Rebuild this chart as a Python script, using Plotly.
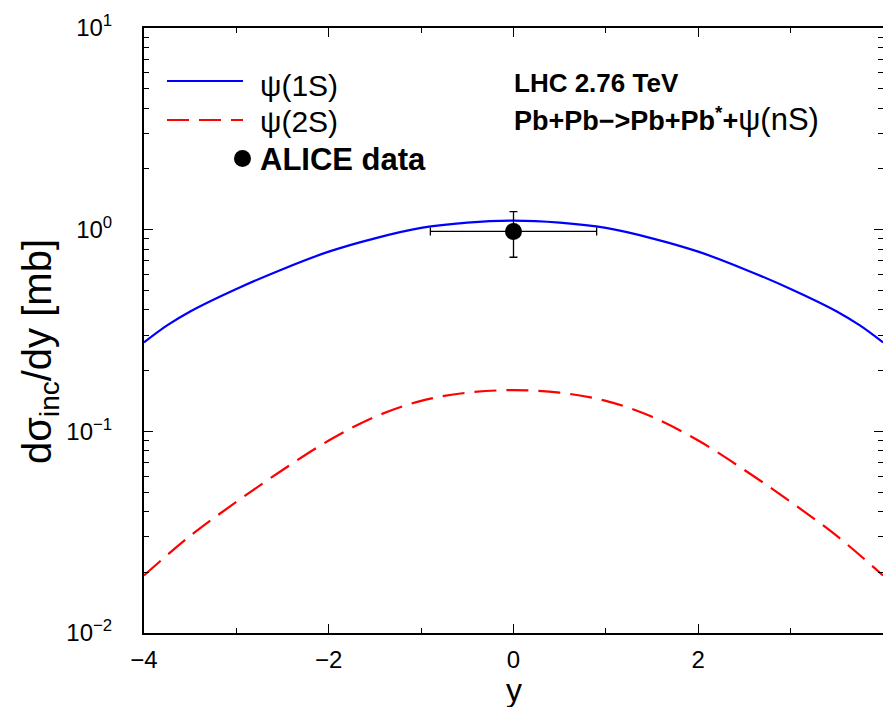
import plotly.graph_objects as go

# ---- data ----
rap = [-4.0, -3.75, -3.5, -3.0, -2.5, -2.0, -1.5, -1.0, -0.5, 0.0,
       0.5, 1.0, 1.5, 2.0, 2.5, 3.0, 3.5, 3.75, 4.0]
psi1s = [0.276, 0.335, 0.393, 0.508, 0.637, 0.778, 0.906, 1.02, 1.083, 1.108,
         1.083, 1.02, 0.906, 0.778, 0.637, 0.508, 0.393, 0.335, 0.276]
rap2 = [-4.0, -3.5, -3.0, -2.5, -2.0, -1.5, -1.0, -0.5, 0.0,
        0.5, 1.0, 1.5, 2.0, 2.5, 3.0, 3.5, 4.0]
psi2s = [0.0193, 0.0303, 0.0447, 0.0643, 0.090, 0.118, 0.1416, 0.1555, 0.160,
         0.1555, 0.1416, 0.118, 0.090, 0.0643, 0.0447, 0.0303, 0.0193]
alice_y = [0.0]
alice_val = [0.98]
alice_err_y = [0.25]
alice_err_x = [0.9]

ytick_vals = [0.01, 0.1, 1, 10]
ytick_text = ["10<sup>−2</sup>", "10<sup>−1</sup>", "10<sup>0</sup>", "10<sup>1</sup>"]
xtick_vals = [-4, -2, 0, 2, 4]
xtick_text = ["−4", "−2", "0", "2", "4"]

FONT = "Liberation Sans, Arial, Helvetica, sans-serif"

fig = go.Figure()
fig.add_trace(go.Scatter(x=rap, y=psi1s, mode="lines", line=dict(color="#0000ff", width=2.2, shape="spline"),
                         showlegend=False, hoverinfo="skip"))
fig.add_trace(go.Scatter(x=rap2, y=psi2s, mode="lines",
                         line=dict(color="#ff0000", width=2.2, dash="22px,10px", shape="spline"),
                         showlegend=False, hoverinfo="skip"))
fig.add_trace(go.Scatter(x=alice_y, y=alice_val, mode="markers",
                         marker=dict(color="black", size=17),
                         error_y=dict(type="data", array=alice_err_y, color="black", thickness=1.3, width=4),
                         error_x=dict(type="data", array=alice_err_x, color="black", thickness=1.3, width=4),
                         showlegend=False, hoverinfo="skip"))

W, H = 883, 707
L, R, T, B = 144, 0, 28, 74
pw, ph = W - L - R, H - T - B

def px(xp):
    return (xp - L) / pw

def py(yp):
    return (H - B - yp) / ph

shapes = [
    dict(type="line", xref="paper", yref="paper", x0=px(167), x1=px(243), y0=py(81), y1=py(81),
         line=dict(color="#0000ff", width=2.2)),
    dict(type="line", xref="paper", yref="paper", x0=px(167), x1=px(243), y0=py(120), y1=py(120),
         line=dict(color="#ff0000", width=2.2, dash="22px,10px")),
    dict(type="circle", xref="paper", yref="paper", x0=px(234), x1=px(251), y0=py(150), y1=py(167),
         fillcolor="black", line=dict(color="black", width=0)),
]

def ann(text, x, y, size, xanchor="left", angle=0):
    return dict(text=text, x=px(x), y=py(y), xref="paper", yref="paper", xanchor=xanchor, yanchor="middle",
                showarrow=False, textangle=angle, font=dict(size=size, family=FONT, color="black"))

annotations = [
    ann("ψ(1S)", 258, 85, 30),
    ann("ψ(2S)", 258, 122, 30),
    ann("<b>ALICE data</b>", 258, 159, 31),
    ann("<b>LHC 2.76 TeV</b>", 512, 83, 26),
    ann("<b>Pb+Pb−&gt;Pb+Pb<sup>*</sup>+</b><span style='font-size:31px'>ψ(nS)</span>", 512, 119, 27),
    ann("dσ<sub>inc</sub>/dy [mb]", 40, 352, 40, xanchor="center", angle=-90),
    ann("y", 514, 690, 32, xanchor="center"),
]

fig.update_layout(
    width=W, height=H,
    margin=dict(l=L, r=R, t=T, b=B, pad=0),
    plot_bgcolor="white", paper_bgcolor="white",
    font=dict(family=FONT, color="black"),
    shapes=shapes, annotations=annotations,
    showlegend=False,
)
fig.update_xaxes(
    range=[-4, 4], tickvals=xtick_vals, ticktext=xtick_text, automargin=False,
    ticks="inside", ticklen=9, tickwidth=1.3, tickcolor="black",
    showline=True, linecolor="black", linewidth=2, mirror="allticks",
    showgrid=False, zeroline=False,
    tickfont=dict(size=24, family=FONT, color="black"),
    ticklabelstandoff=4,
    minor=dict(tickvals=[-3, -1, 1, 3], ticks="inside", ticklen=5, tickcolor="black", tickwidth=1.3),
)
minor_y = [m * 10 ** e for e in (-2, -1, 0) for m in range(2, 10)]
fig.update_yaxes(
    type="log", range=[-2, 1], tickvals=ytick_vals, ticktext=ytick_text, automargin=False,
    ticks="inside", ticklen=9, tickwidth=1.3, tickcolor="black",
    showline=True, linecolor="black", linewidth=2, mirror="allticks",
    showgrid=False, zeroline=False,
    tickfont=dict(size=24, family=FONT, color="black"),
    ticklabelstandoff=25,
    minor=dict(tickvals=minor_y, ticks="inside", ticklen=5, tickcolor="black", tickwidth=1.3),
)

fig.write_html("out.html", config={"displayModeBar": False},
               post_script="document.body.style.margin='0';document.body.style.overflow='hidden';")
